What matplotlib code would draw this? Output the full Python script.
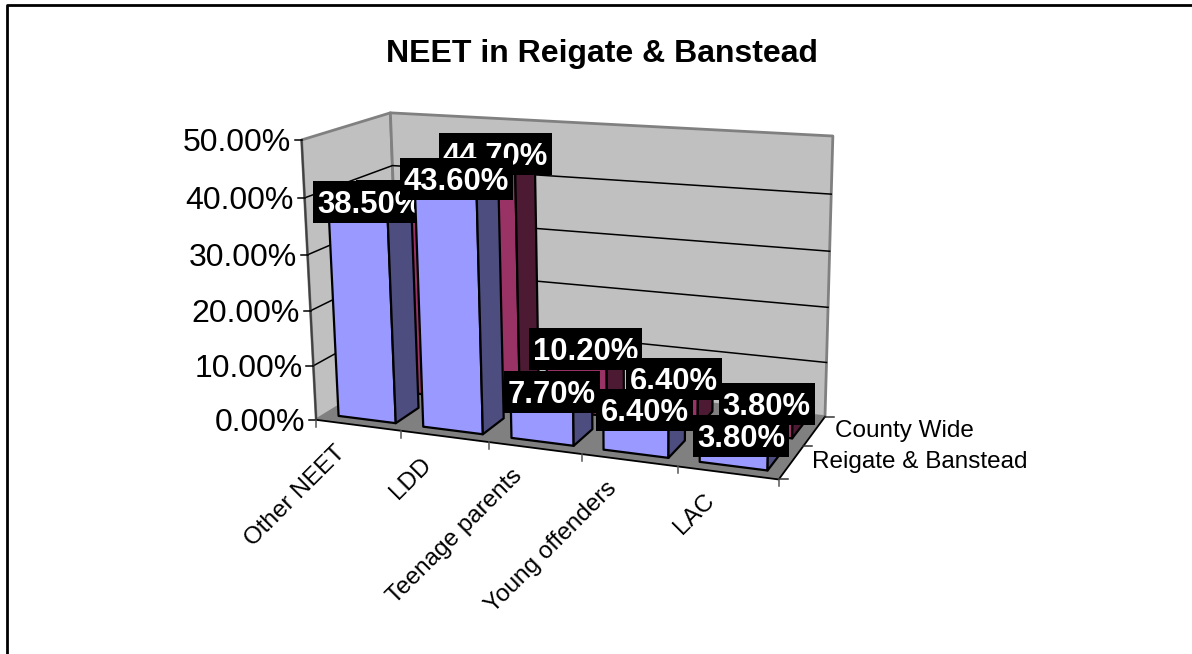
import numpy as np
import matplotlib
matplotlib.use('Agg')
import matplotlib.pyplot as plt
from matplotlib.patches import Polygon, Rectangle

plt.rcParams['font.family'] = ['Liberation Sans', 'DejaVu Sans']

categories = ['Other NEET', 'LDD', 'Teenage parents', 'Young offenders', 'LAC']
series_names = ['Reigate & Banstead', 'County Wide']
reigate = [38.5, 43.6, 7.7, 6.4, 3.8]
# first county value is hidden behind the front bars, this is a guess
county = [35.0, 44.7, 10.2, 6.4, 3.8]
y_ticks = [0, 10, 20, 30, 40, 50]

# category, depth, value -> where that corner of the box sits in the picture
corners = [
    ((0, 0, 0), (315, 419)), ((0, 0, 50), (303, 141)),
    ((0, 2, 50), (389, 111)), ((0, 2, 0), (402, 371)),
    ((5, 2, 50), (833, 137)), ((5, 2, 0), (823, 415)),
    ((5, 0, 0), (779, 481)), ((5, 1, 0), (806, 446)),
    ((1, 0, 0), (401, 430)), ((2, 0, 0), (489, 441)),
    ((3, 0, 0), (581, 454)), ((4, 0, 0), (677, 467)),
]
rows = []
rhs = []
for (a, b, c), (u, v) in corners:
    rows.append([a, b, c, 1, 0, 0, 0, 0, -u * a, -u * b, -u * c])
    rhs.append(u)
    rows.append([0, 0, 0, 0, a, b, c, 1, -v * a, -v * b, -v * c])
    rhs.append(v)
cam = np.linalg.lstsq(np.array(rows, float), np.array(rhs, float), rcond=None)[0]
cam = np.append(cam, 1).reshape(3, 4)


def proj(x, z, y):
    p = cam @ np.array([x, z, y, 1.0])
    return p[0] / p[2], p[1] / p[2]


fig = plt.figure(figsize=(11.92, 6.54), dpi=100)
ax = fig.add_axes([0, 0, 1, 1])
ax.set_xlim(0, 1192)
ax.set_ylim(654, 0)
ax.axis('off')
renderer = fig.canvas.get_renderer()

# frame only shows on the top and left
ax.plot([7, 7, 1192], [654, 5, 5], color='black', lw=2)
ax.text(602, 54, 'NEET in Reigate & Banstead', fontsize=23, fontweight='bold',
        ha='center', va='center')


def face(pts, fc, ec='black', lw=1.6, z=1):
    ax.add_patch(Polygon([proj(*p) for p in pts], closed=True, fc=fc, ec=ec,
                         lw=lw, joinstyle='round', zorder=z))


# walls and floor
face([(0, 0, 0), (0, 2, 0), (0, 2, 50), (0, 0, 50)], '#C0C0C0', '#808080', 2)
face([(0, 2, 0), (5, 2, 0), (5, 2, 50), (0, 2, 50)], '#C0C0C0', '#808080', 2)
face([(0, 0, 0), (5, 0, 0), (5, 2, 0), (0, 2, 0)], '#808080', 'none', 0)

for t in y_ticks[1:-1]:
    pts = [proj(0, 0, t), proj(0, 2, t), proj(5, 2, t)]
    ax.plot(*zip(*pts), color='black', lw=1.1, zorder=2)

# axis lines and ticks
ax.plot(*zip(proj(0, 0, 0), proj(0, 0, 50)), color='#404040', lw=1.4, zorder=2)
ax.plot(*zip(proj(0, 0, 0), proj(5, 0, 0), proj(5, 2, 0)), color='black', lw=1.3, zorder=2)
for t in y_ticks:
    x0, y0 = proj(0, 0, t)
    ax.plot([x0 - 7, x0], [y0, y0], color='black', lw=1.1)
    ax.text(x0 - 11, y0 + 3, '%.2f%%' % t, fontsize=23, ha='right', va='center')
for i in range(6):
    x0, y0 = proj(i, 0, 0)
    ax.plot([x0, x0], [y0, y0 + 7], color='#555555', lw=1.1)
for d in range(3):
    x0, y0 = proj(5, d, 0)
    ax.plot([x0, x0 + 9], [y0, y0], color='#333333', lw=1.1)
for i, name in enumerate(categories):
    x0, y0 = proj(i + 0.5, 0, 0)
    ax.text(x0 - 24, y0 + 17, name, fontsize=17.5, rotation=45, rotation_mode='anchor',
            ha='right', va='top')
for d, name in enumerate(series_names):
    x0, y0 = proj(5, d + 0.5, 0)
    ax.text(x0 + 21, y0, name, fontsize=17.5, ha='left', va='center')

gap = 0.16
d0, d1 = 0.2, 0.75
colors = [('#9999FF', '#4D4D80', '#7373BF'), ('#993366', '#4D1A33', '#73264D')]
label_shift = [1, -2]

# back series first, each bar then its label, so later ones cover earlier ones
z = 5
for s in [1, 0]:
    vals = [reigate, county][s]
    front, side, top = colors[s]
    for i, v in enumerate(vals):
        a, b = i + gap, i + 1 - gap
        c, d = s + d0, s + d1
        face([(a, c, 0), (b, c, 0), (b, c, v), (a, c, v)], front, z=z)
        face([(b, c, 0), (b, d, 0), (b, d, v), (b, c, v)], side, z=z)
        face([(a, c, v), (b, c, v), (b, d, v), (a, d, v)], top, z=z)
        x0, y0 = proj((a + b) / 2, (c + d) / 2, v)
        cy = y0 + label_shift[s]
        txt = ax.text(x0, cy + 11, '%.2f%%' % v, fontsize=22.3, fontweight='bold', color='white',
                      ha='center', va='baseline', zorder=z + 0.5)
        w = txt.get_window_extent(renderer).width + 8
        ax.add_patch(Rectangle((x0 - w / 2, cy - 21), w, 42, fc='black', ec='none', zorder=z + 0.4))
        z += 1

fig.savefig('out.png', dpi=100)
